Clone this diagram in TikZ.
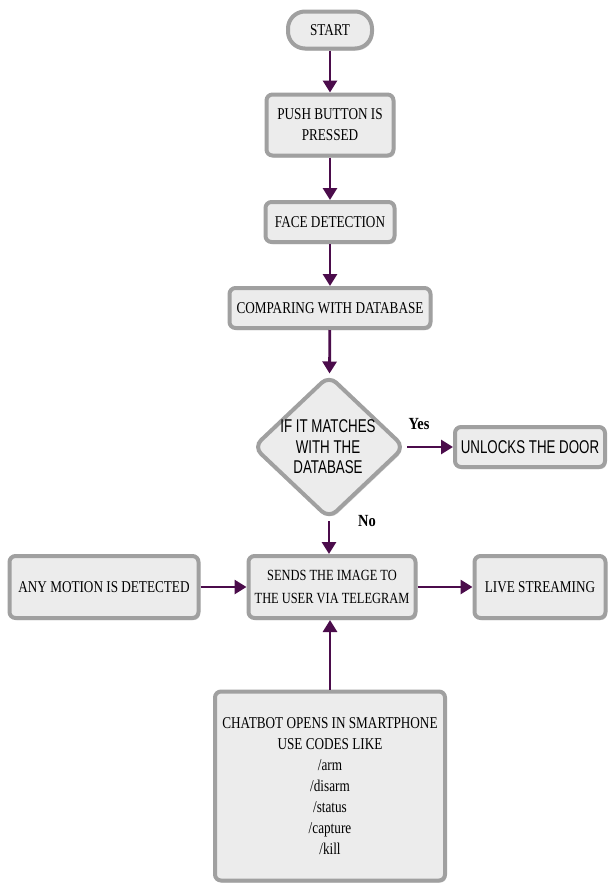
\documentclass[tikz,border=0pt]{standalone}
\usepackage{fontspec}
\setmainfont[FakeStretch=0.8]{Liberation Serif}
\newfontfamily\narrowsans[FakeStretch=0.72]{Liberation Sans}
\newfontfamily\labelfont[FakeStretch=0.85]{Liberation Serif}
\usetikzlibrary{shapes.geometric,arrows.meta,shadows}
\definecolor{arrowc}{RGB}{75,12,75}
\definecolor{boxfill}{RGB}{236,236,236}
\definecolor{boxedge}{RGB}{160,160,160}
\tikzset{
  box/.style={rectangle, rounded corners=6pt, fill=boxfill, draw=boxedge, line width=4pt,
    align=center, inner sep=0pt, font=\fontsize{16.5}{21}\selectfont,
    drop shadow={shadow xshift=1.5pt, shadow yshift=-2pt, fill=gray!45, opacity=0.8}},
  pill/.style={box, rounded corners=17pt},
  decision/.style={diamond, rounded corners=10pt, fill=boxfill, draw=boxedge, line width=4pt,
    inner sep=0pt, drop shadow={shadow xshift=1.5pt, shadow yshift=-2pt, fill=gray!45, opacity=0.8}},
  sanstext/.style={align=center, inner sep=0pt, font=\narrowsans\fontsize{18.5}{20.5}\selectfont},
  flow/.style={draw=arrowc, line width=2.8pt, -{Triangle[width=14pt,length=12pt]}},
  yn/.style={inner sep=0pt, font=\labelfont\bfseries\fontsize{17}{18}\selectfont}
}
\begin{document}
\begin{tikzpicture}[x=1pt,y=-1pt]
\useasboundingbox (0,0) rectangle (609,884);
\node[pill, minimum width=84, minimum height=37] (start) at (330,30) {START};
\node[box, minimum width=127, minimum height=61] (push) at (330,125) {PUSH BUTTON IS\\PRESSED};
\node[box, minimum width=129, minimum height=40] (face) at (330,222) {FACE DETECTION};
\node[box, minimum width=201, minimum height=40] (comp) at (330,308) {COMPARING WITH DATABASE};
\node[decision, minimum width=152, minimum height=144] (dec) at (329,447) {};
\node[sanstext] (dect) at (328,447) {IF IT MATCHES\\WITH THE\\DATABASE};
\node[box, minimum width=150, minimum height=40, font=\narrowsans\fontsize{18.5}{20}\selectfont] (unlock) at (530,447) {UNLOCKS THE DOOR};
\node[box, minimum width=167, minimum height=62, font=\fontsize{15.5}{23}\selectfont] (send) at (332,587) {SENDS THE IMAGE TO\\THE USER VIA TELEGRAM};
\node[box, minimum width=189, minimum height=62] (motion) at (104,587) {ANY MOTION IS DETECTED};
\node[box, minimum width=131, minimum height=62] (live) at (540,587) {LIVE STREAMING};
\node[box, minimum width=230, minimum height=189] (chat) at (330,786) {CHATBOT OPENS IN SMARTPHONE\\USE CODES LIKE\\/arm\\/disarm\\/status\\/capture\\/kill};
\node[yn] (yes) at (419,424) {Yes};
\node[yn] (no) at (367,521) {No};
\draw[flow] (start) -- (push);
\draw[flow] (push) -- (face);
\draw[flow] (face) -- (comp);
\draw[flow] (comp) -- (dec);
\draw[flow] (dec.east) -- (unlock.west);
\draw[flow] (dec.south) -- (send.north -| dec.south);
\draw[flow] (motion) -- (send);
\draw[flow] (send) -- (live);
\draw[flow] (chat.north) -- (send.south -| chat.north);
\end{tikzpicture}
\end{document}
